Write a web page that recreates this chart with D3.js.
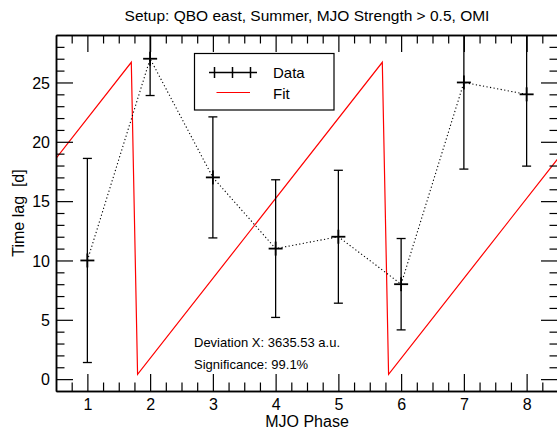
<!DOCTYPE html>
<html>
<head>
<meta charset="utf-8">
<script src="https://cdn.jsdelivr.net/npm/d3@7"></script>
<style>
  html, body { margin: 0; padding: 0; background: #fff; }
  svg { display: block; font-family: "Liberation Sans", Arial, Helvetica, sans-serif; }
</style>
</head>
<body>
<svg id="chart" width="557" height="432"></svg>
<script>
// ---- data ----
const phases = [1, 2, 3, 4, 5, 6, 7, 8];
const lagValues = [10, 27, 17, 11, 12, 8, 25, 24];
const errLow = [1.4, 23.9, 11.9, 5.2, 6.4, 4.15, 17.7, 17.95];
const errHigh = [18.6, 30.1, 22.1, 16.8, 17.6, 11.85, 32.3, 30.05];
const fitPhase = [0.5, 1.7, 1.8, 5.7, 5.8, 8.5];
const fitLag = [18.6, 26.7, 0.4, 26.7, 0.4, 18.6];
const xTicks = [1, 2, 3, 4, 5, 6, 7, 8];
const yTicks = [0, 5, 10, 15, 20, 25];
const titleText = "Setup: QBO east, Summer, MJO Strength > 0.5, OMI";
const xLabel = "MJO Phase";
const yLabel = "Time lag\u00a0\u00a0[d]";
const legendLabels = ["Data", "Fit"];
const annotations = ["Deviation X: 3635.53 a.u.", "Significance: 99.1%"];

// ---- layout ----
const L = 56, R = 558, T = 35, B = 391;
const svg = d3.select("#chart");
const x = d3.scaleLinear().domain([0.5, 8.5]).range([L, R]);
const y = d3.scaleLinear().domain([-1, 29]).range([B, T]);

svg.append("defs").append("clipPath").attr("id", "clip")
  .append("rect").attr("x", L).attr("y", T).attr("width", R - L).attr("height", B - T);

const plot = svg.append("g").attr("clip-path", "url(#clip)");

// fit line
plot.append("path")
  .datum(fitPhase.map((p, i) => [p, fitLag[i]]))
  .attr("fill", "none").attr("stroke", "#ff0000").attr("stroke-width", 1.2)
  .attr("d", d3.line().x(d => x(d[0])).y(d => y(d[1])));

// dotted connecting line
plot.append("path")
  .datum(phases.map((p, i) => [p, lagValues[i]]))
  .attr("fill", "none").attr("stroke", "#000").attr("stroke-width", 1.1)
  .attr("stroke-dasharray", "1.2,2.4")
  .attr("d", d3.line().x(d => x(d[0])).y(d => y(d[1])));

// error bars
const eb = plot.append("g").attr("stroke", "#000").attr("stroke-width", 1.3);
phases.forEach((p, i) => {
  const cx = x(p);
  eb.append("line").attr("x1", cx).attr("x2", cx).attr("y1", y(errLow[i])).attr("y2", y(errHigh[i]));
  eb.append("line").attr("x1", cx - 4.5).attr("x2", cx + 4.5).attr("y1", y(errLow[i])).attr("y2", y(errLow[i]));
  eb.append("line").attr("x1", cx - 4.5).attr("x2", cx + 4.5).attr("y1", y(errHigh[i])).attr("y2", y(errHigh[i]));
});
// plus markers
const pm = plot.append("g").attr("stroke", "#000").attr("stroke-width", 1.8);
phases.forEach((p, i) => {
  const cx = x(p), cy = y(lagValues[i]);
  pm.append("line").attr("x1", cx - 7).attr("x2", cx + 7).attr("y1", cy).attr("y2", cy);
  pm.append("line").attr("x1", cx).attr("x2", cx).attr("y1", cy - 7).attr("y2", cy + 7);
});

// axes
const fmt = d3.format("d");
const xMinor = d3.range(0.75, 8.5, 0.25).filter(v => Math.abs(v - Math.round(v)) > 1e-6);
const yMinor = d3.range(0, 29, 1).filter(v => v % 5 !== 0);

function styleAxis(g) {
  g.attr("font-size", 16).attr("font-family", '"Liberation Sans", Arial, sans-serif');
  g.select(".domain").attr("stroke", "#000").attr("stroke-width", 1.5);
  g.selectAll(".tick line").attr("stroke", "#000").attr("stroke-width", 1.2);
  g.selectAll("text").attr("font-size", 16).attr("fill", "#000");
}

// bottom
const gxb = svg.append("g").attr("transform", `translate(0,${B})`)
  .call(d3.axisBottom(x).tickValues(xTicks).tickFormat(fmt).tickSizeInner(-17).tickSizeOuter(0).tickPadding(7.5));
styleAxis(gxb);
svg.append("g").attr("transform", `translate(0,${B})`)
  .call(d3.axisBottom(x).tickValues(xMinor).tickFormat("").tickSizeInner(-8.5).tickSizeOuter(0))
  .call(styleAxis);
// top
svg.append("g").attr("transform", `translate(0,${T})`)
  .call(d3.axisTop(x).tickValues(xTicks).tickFormat("").tickSizeInner(-17).tickSizeOuter(0))
  .call(styleAxis);
svg.append("g").attr("transform", `translate(0,${T})`)
  .call(d3.axisTop(x).tickValues(xMinor).tickFormat("").tickSizeInner(-8.5).tickSizeOuter(0))
  .call(styleAxis);
// left
const gyl = svg.append("g").attr("transform", `translate(${L},0)`)
  .call(d3.axisLeft(y).tickValues(yTicks).tickFormat(fmt).tickSizeInner(-17).tickSizeOuter(0).tickPadding(6));
styleAxis(gyl);
gyl.selectAll("text").attr("dy", "0.36em");
svg.append("g").attr("transform", `translate(${L},0)`)
  .call(d3.axisLeft(y).tickValues(yMinor).tickFormat("").tickSizeInner(-8.5).tickSizeOuter(0))
  .call(styleAxis);
// right
svg.append("g").attr("transform", `translate(${R},0)`)
  .call(d3.axisRight(y).tickValues(yTicks).tickFormat("").tickSizeInner(-17).tickSizeOuter(0))
  .call(styleAxis);
svg.append("g").attr("transform", `translate(${R},0)`)
  .call(d3.axisRight(y).tickValues(yMinor).tickFormat("").tickSizeInner(-8.5).tickSizeOuter(0))
  .call(styleAxis);

// titles
svg.append("text").attr("x", (L + R) / 2).attr("y", 21).attr("text-anchor", "middle")
  .attr("font-size", 15.5).text(titleText);
svg.append("text").attr("x", (L + R) / 2).attr("y", 427).attr("text-anchor", "middle")
  .attr("font-size", 16).text(xLabel);
svg.append("text").attr("transform", `translate(24,${(T + B) / 2}) rotate(-90)`)
  .attr("text-anchor", "middle").attr("font-size", 16).text(yLabel);

// legend
const lg = svg.append("g");
lg.append("rect").attr("x", 194.5).attr("y", 53.5).attr("width", 139.5).attr("height", 56.5)
  .attr("fill", "#fff").attr("stroke", "#000").attr("stroke-width", 1.2);
const ly1 = 72.5;
lg.append("line").attr("x1", 209).attr("x2", 257).attr("y1", ly1).attr("y2", ly1)
  .attr("stroke", "#000").attr("stroke-width", 1.5);
[214.5, 232.5, 250.5].forEach(cx => {
  lg.append("line").attr("x1", cx).attr("x2", cx).attr("y1", ly1 - 5.5).attr("y2", ly1 + 5.5)
    .attr("stroke", "#000").attr("stroke-width", 1.5);
});
lg.append("text").attr("x", 273).attr("y", 77.5).attr("font-size", 15).text(legendLabels[0]);
lg.append("line").attr("x1", 216.5).attr("x2", 250).attr("y1", 92.5).attr("y2", 92.5)
  .attr("stroke", "#ff0000").attr("stroke-width", 1.2);
lg.append("text").attr("x", 273).attr("y", 99).attr("font-size", 15).text(legendLabels[1]);

// annotations
svg.append("text").attr("x", 194).attr("y", 346.5).attr("font-size", 13).text(annotations[0]);
svg.append("text").attr("x", 194).attr("y", 368.5).attr("font-size", 13).text(annotations[1]);
</script>
</body>
</html>
